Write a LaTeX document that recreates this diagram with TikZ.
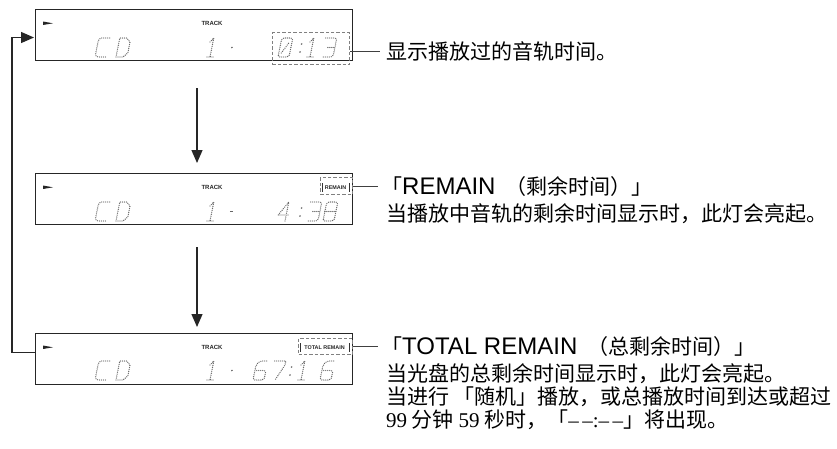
\documentclass[tikz,border=0pt]{standalone}
\usepackage{fontspec}
\setmainfont{Liberation Serif}
\newfontfamily\cjk{Noto Sans CJK SC}
\newfontfamily\lsans{Liberation Sans}
\usetikzlibrary{arrows.meta}

\newcommand\cj[1]{{\cjk\fontsize{21}{23}\selectfont #1}}

\tikzset{
  lcdbox/.style={draw=black!85, line width=1pt, minimum width=317pt, minimum height=51pt, anchor=north west, inner sep=0pt},
  lcd/.style={draw=black!60, line width=1.35pt, dash pattern=on 0pt off 2pt, line cap=round, line join=round},
  lcddot/.style={fill=black!60},
  hilite/.style={draw=black!50, line width=1pt, dash pattern=on 3.4pt off 2pt, anchor=north west, inner sep=0pt},
  bar/.style={draw=black!80, line width=0.7pt},
  leader/.style={draw=black!75, line width=0.9pt},
  flow/.style={draw=black!85, line width=1.3pt, -{Triangle[length=13pt,width=11pt]}},
  tiny/.style={font=\lsans\bfseries\fontsize{6}{6}\selectfont, inner sep=0pt, text=black!85},
  tinier/.style={font=\lsans\bfseries\fontsize{5.4}{5.4}\selectfont, inner sep=0pt, text=black!85},
  cjkline/.style={anchor=west, inner sep=0pt, font=\cjk\fontsize{21}{23}\selectfont},
  headline/.style={anchor=west, inner sep=0pt, font=\lsans\fontsize{24}{26}\selectfont},
}

% LCD glyphs: #1 = left x, #2 = baseline y
\newcommand\lcdC[2]{\draw[lcd,shift={(#1,#2)},xslant=0.2,rounded corners=3pt] (11,-19) -- (0,-19) -- (0,0) -- (11,0);}
\newcommand\lcdD[2]{\draw[lcd,shift={(#1,#2)},xslant=0.2] (0,0) -- (0,-19) -- (7,-19) -- (11,-15) -- (11,-4) -- (7,0) -- cycle;}
\newcommand\lcdZero[2]{\draw[lcd,shift={(#1,#2)},xslant=0.2] [rounded corners=2pt] (0,0) -- (0,-19) -- (11,-19) -- (11,0) -- cycle; \draw[lcd,shift={(#1,#2)},xslant=0.2] (2.5,-4) -- (8.5,-15);}
\newcommand\lcdOne[2]{\draw[lcd,shift={(#1,#2)},xslant=0.2] (3,-15) -- (6,-19) -- (6,0) (3,0) -- (9,0);}
\newcommand\lcdThree[2]{\draw[lcd,shift={(#1,#2)},xslant=0.2] [rounded corners=2pt] (0,-19) -- (11,-19) -- (11,0) -- (0,0); \draw[lcd,shift={(#1,#2)},xslant=0.2] (4,-9.5) -- (11,-9.5);}
\newcommand\lcdFour[2]{\draw[lcd,shift={(#1,#2)},xslant=0.2] (8,0) -- (8,-19) -- (0,-6) -- (11,-6);}
\newcommand\lcdSix[2]{\draw[lcd,shift={(#1,#2)},xslant=0.2] [rounded corners=2pt] (10,-19) -- (3,-19) -- (0,-15) -- (0,0) -- (11,0) -- (11,-9.5) -- (0,-9.5);}
\newcommand\lcdSeven[2]{\draw[lcd,shift={(#1,#2)},xslant=0.2] (0,-19) -- (11,-19) -- (11,-15) -- (4,0);}
\newcommand\lcdEight[2]{\draw[lcd,shift={(#1,#2)},xslant=0.2] [rounded corners=2pt] (0,0) -- (0,-19) -- (11,-19) -- (11,0) -- cycle; \draw[lcd,shift={(#1,#2)},xslant=0.2] (0,-9.5) -- (11,-9.5);}
\newcommand\lcdColon[2]{\fill[lcddot,shift={(#1,#2)},xslant=0.2] (1,-5) circle (0.9) (1,-13) circle (0.9);}
\newcommand\lcdPt[2]{\fill[lcddot,shift={(#1,#2)},xslant=0.2] (1,-9.5) circle (0.9);}
\newcommand\lcdDash[2]{\draw[draw=black!60,line width=1.1pt,shift={(#1,#2)},xslant=0.2] (0,-9.5) -- (3,-9.5);}

\begin{document}
\begin{tikzpicture}[x=1pt,y=-1pt]
\useasboundingbox (0,0) rectangle (837,448);

% displays
\node[lcdbox] (d1) at (35,9) {};
\node[lcdbox] (d2) at (35,173) {};
\node[lcdbox] (d3) at (35,333) {};

% play marks and TRACK labels
\fill[black!85] (43,21.5) -- (53,23.3) -- (43,25) -- cycle;
\fill[black!85] (43,185.5) -- (53,187.3) -- (43,189) -- cycle;
\fill[black!85] (43,345.5) -- (53,347.3) -- (43,349) -- cycle;
\node[tiny] (tr1) at (212,23) {TRACK};
\node[tiny] (tr2) at (212,187.5) {TRACK};
\node[tiny] (tr3) at (212,347.5) {TRACK};

% display 1: CD 1. 0:13
\lcdC{95}{57}\lcdD{116}{57}\lcdOne{204}{57}\lcdPt{229}{57}
\lcdZero{278}{57}\lcdColon{298}{57}\lcdOne{304}{57}\lcdThree{322}{57}
% display 2: CD 1- 4:38
\lcdC{95}{221}\lcdD{116}{221}\lcdOne{204}{221}\lcdDash{228}{221}
\lcdFour{277}{221}\lcdColon{298}{221}\lcdThree{307}{221}\lcdEight{323}{221}
% display 3: CD 1. 67:16
\lcdC{95}{380}\lcdD{116}{380}\lcdOne{204}{380}\lcdPt{229}{380}
\lcdSix{253}{380}\lcdSeven{271}{380}\lcdColon{288}{380}\lcdOne{295}{380}\lcdSix{320}{380}

% highlighted areas
\node[hilite, minimum width=77pt, minimum height=32pt] (hl1) at (272,32) {};
\node[hilite, minimum width=32pt, minimum height=17pt] (hl2) at (320,177) {};
\node[hilite, minimum width=54pt, minimum height=16pt] (hl3) at (298,338) {};
\node[tinier] (rm2) at (335.5,187.5) {REMAIN};
\draw[bar] (322,183) -- (322,192) (349,183) -- (349,192);
\node[tinier] (rm3) at (324.5,347.5) {TOTAL REMAIN};
\draw[bar] (300,343) -- (300,352) (349,343) -- (349,352);

% texts
\node[cjkline] (t1) at (386,51) {显示播放过的音轨时间。};
\node[headline] (t2a) at (381,187) {\cj{「}REMAIN\hspace{10pt}\cj{（剩余时间）」}};
\node[cjkline] (t2b) at (386,214) {当播放中音轨的剩余时间显示时，此灯会亮起。};
\node[headline] (t3a) at (381,347) {\cj{「}TOTAL REMAIN\hspace{10pt}\cj{（总剩余时间）」}};
\node[cjkline] (t3b) at (386,374) {当光盘的总剩余时间显示时，此灯会亮起。};
\node[cjkline] (t3c) at (386,397) {当进行 「随机」播放，或总播放时间到达或超过};
\node[cjkline] (t3d) at (386,420) {{\rmfamily 99} 分钟 {\rmfamily 59} 秒时，「{\rmfamily –\,–:–\,–}」将出现。};

% leaders
\draw[leader] (hl1.east |- t1.west) -- ([xshift=-6pt]t1.west);
\draw[leader] (hl2.east) -- ([xshift=-3pt]hl2.east -| t2a.west);
\draw[leader] (hl3.east) -- ([xshift=-3pt]hl3.east -| t3a.west);

% flow arrows
\coordinate (ax) at (197,0);
\draw[flow, shorten <=27pt, shorten >=10pt] (d1.south -| ax) -- (d2.north -| ax);
\draw[flow, shorten <=22pt, shorten >=6pt] (d2.south -| ax) -- (d3.north -| ax);
\draw[flow, shorten >=1pt] ([yshift=6.5pt]d3.west) -- ++(-23,0) |- ([yshift=-2.5pt]d1.west);
\end{tikzpicture}
\end{document}
